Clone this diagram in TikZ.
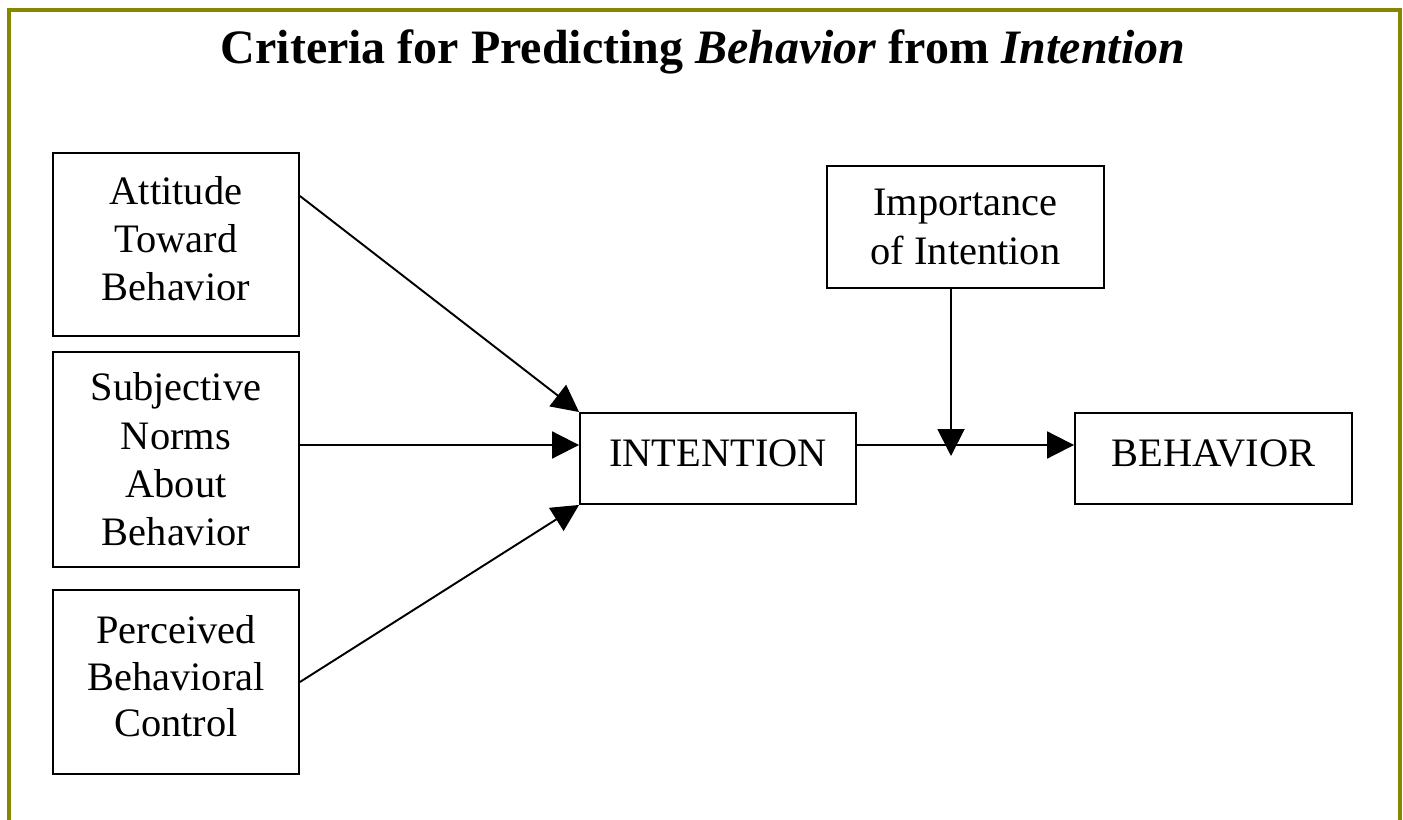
\documentclass[tikz,border=0pt]{standalone}
\usepackage{fontspec}
\setmainfont{Liberation Serif}
\usetikzlibrary{arrows.meta}
\definecolor{framegold}{RGB}{134,134,0}
\tikzset{
  box/.style={draw,line width=1.1pt,align=center,inner sep=0pt,font=\fontsize{23}{27.5}\selectfont},
  link/.style={line width=1.1pt,-{Triangle[length=0.54cm,width=0.54cm]}}
}
\begin{document}
\begin{tikzpicture}[x=0.02cm,y=-0.02cm]
\useasboundingbox (0,0) rectangle (1403,820);
\draw[framegold,line width=0.08cm] (9,10) rectangle (1400,840);
\node[font=\bfseries\fontsize{27.3}{31}\selectfont] (title) at (703,52) {Criteria for Predicting \textit{Behavior} from \textit{Intention}};

\node[box,minimum width=4.92cm,minimum height=3.66cm,text depth=0.24cm] (att) at (176,244.5) {Attitude\\Toward\\Behavior};
\node[box,minimum width=4.92cm,minimum height=4.3cm] (sub) at (176,459.5) {Subjective\\Norms\\About\\Behavior};
\node[box,minimum width=4.92cm,minimum height=3.68cm,text depth=0.24cm,font=\fontsize{23}{26.6}\selectfont] (per) at (176,682) {Perceived\\Behavioral\\Control};
\node[box,minimum width=5.52cm,minimum height=1.82cm,text depth=0.2cm] (int) at (718,458.5) {INTENTION};
\node[box,minimum width=5.54cm,minimum height=2.44cm] (imp) at (965.5,227) {Importance\\of Intention};
\node[box,minimum width=5.54cm,minimum height=1.82cm,text depth=0.2cm] (beh) at (1213.5,458.5) {BEHAVIOR};
\coordinate (mod) at (951,456);

\draw[link] ([yshift=0.97cm]att.east) -- (int.north west);
\draw[link] ([yshift=0.29cm]sub.east) -- ([yshift=0.27cm]int.west);
\draw[link] (per.east) -- (int.south west);
\draw[link] ([yshift=0.27cm]int.east) -- ([yshift=0.27cm]beh.west);
\draw[link] ([xshift=-0.29cm]imp.south) -- (mod);
\end{tikzpicture}
\end{document}
